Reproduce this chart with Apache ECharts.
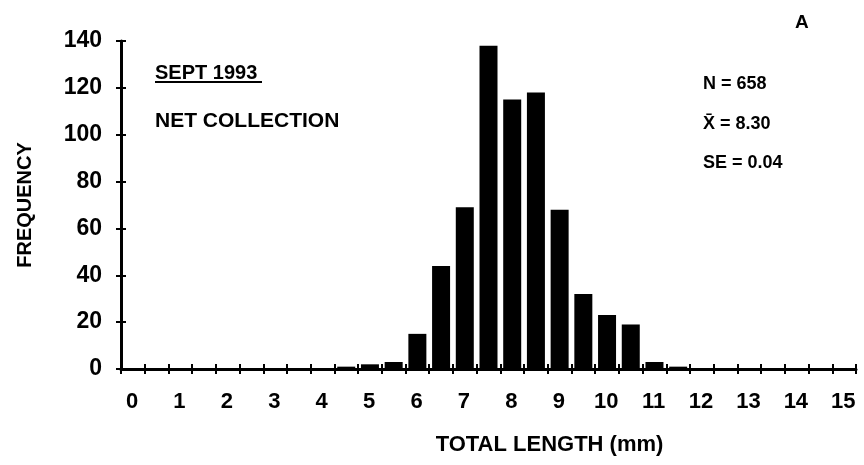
<!DOCTYPE html>
<html>
<head>
<meta charset="utf-8">
<script src="https://cdn.jsdelivr.net/npm/echarts@6/dist/echarts.min.js"></script>
<style>
  html, body { margin: 0; padding: 0; background: #fff; }
  #chart { width: 864px; height: 465px; }
</style>
</head>
<body>
<div id="chart"></div>
<script>
// Histogram bins (lower edge, mm) and frequencies
const binStarts = [4.5, 5.0, 5.5, 6.0, 6.5, 7.0, 7.5, 8.0, 8.5, 9.0, 9.5, 10.0, 10.5, 11.0, 11.5];
const frequencies = [1, 2, 3, 15, 44, 69, 138, 115, 118, 68, 32, 23, 19, 3, 1];
const binWidth = 0.5;
const xTickLabels = ['0','1','2','3','4','5','6','7','8','9','10','11','12','13','14','15'];
const yTickLabels = ['0','20','40','60','80','100','120','140'];
const statLines = ['N = 658', 'X\u0304 = 8.30', 'SE = 0.04'];

const FONT = '"Liberation Sans", Arial, sans-serif';
const chart = echarts.init(document.getElementById('chart'), null, { renderer: 'canvas' });

const barData = binStarts.map((s, i) => [s + binWidth / 2, frequencies[i]]);

const axisCommonX = { type: 'value', min: 0, max: 15.5, interval: 0.5, splitLine: { show: false } };
const axisCommonY = { type: 'value', min: 0, max: 140, interval: 20, splitLine: { show: false } };

chart.setOption({
  animation: false,
  backgroundColor: '#ffffff',
  grid: { left: 121, right: 8, top: 41, bottom: 96, containLabel: false, outerBoundsMode: 'none' },
  xAxis: [
    Object.assign({}, axisCommonX, {
      position: 'bottom',
      name: 'TOTAL LENGTH (mm)',
      nameLocation: 'middle',
      nameGap: 65,
      nameTextStyle: { fontFamily: FONT, fontSize: 22, fontWeight: 'bold', color: '#000', padding: [0, 0, 0, 122] },
      axisLine: { show: true, lineStyle: { color: '#000', width: 3 } },
      axisTick: { show: true, inside: false, length: 5, lineStyle: { color: '#000', width: 2 } },
      axisLabel: {
        show: true,
        margin: 22,
        fontFamily: FONT, fontSize: 22, fontWeight: 'bold', color: '#000',
        padding: [0, 0, 0, 22],
        formatter: function (v) {
          const idx = xTickLabels.indexOf(String(v));
          return idx >= 0 ? xTickLabels[idx] : '';
        }
      }
    }),
    Object.assign({}, axisCommonX, {
      position: 'bottom',
      axisLine: { show: false },
      axisTick: { show: true, inside: true, length: 5, lineStyle: { color: '#000', width: 2 } },
      axisLabel: { show: false }
    })
  ],
  yAxis: [
    Object.assign({}, axisCommonY, {
      position: 'left',
      name: 'FREQUENCY',
      nameLocation: 'middle',
      nameGap: 86,
      nameTextStyle: { fontFamily: FONT, fontSize: 20, fontWeight: 'bold', color: '#000' },
      axisLine: { show: true, lineStyle: { color: '#000', width: 3 } },
      axisTick: { show: true, inside: false, length: 5, lineStyle: { color: '#000', width: 2 } },
      axisLabel: {
        show: true, margin: 19,
        fontFamily: FONT, fontSize: 23, fontWeight: 'bold', color: '#000',
        formatter: function (v) {
          const idx = yTickLabels.indexOf(String(v));
          return idx >= 0 ? yTickLabels[idx] : '';
        }
      }
    }),
    Object.assign({}, axisCommonY, {
      position: 'left',
      axisLine: { show: false },
      axisTick: { show: true, inside: true, length: 5, lineStyle: { color: '#000', width: 2 } },
      axisLabel: { show: false }
    })
  ],
  series: [{
    type: 'bar',
    xAxisIndex: 0,
    yAxisIndex: 0,
    barWidth: 18,
    itemStyle: { color: '#000' },
    data: barData
  }],
  graphic: [
    { type: 'text', left: 155, top: 63, style: { text: 'SEPT 1993', font: 'bold 20px ' + FONT, fill: '#000' } },
    { type: 'line', shape: { x1: 155, y1: 82, x2: 262, y2: 82 }, style: { stroke: '#000', lineWidth: 2 } },
    { type: 'text', left: 155, top: 111, style: { text: 'NET COLLECTION', font: 'bold 21px ' + FONT, fill: '#000' } },
    { type: 'text', left: 795, top: 13, style: { text: 'A', font: 'bold 19px ' + FONT, fill: '#000' } },
    { type: 'text', left: 703, top: 75, style: { text: statLines[0], font: 'bold 18px ' + FONT, fill: '#000' } },
    { type: 'text', left: 703, top: 115, style: { text: statLines[1], font: 'bold 18px ' + FONT, fill: '#000' } },
    { type: 'text', left: 703, top: 154, style: { text: statLines[2], font: 'bold 18px ' + FONT, fill: '#000' } }
  ]
});
</script>
</body>
</html>
